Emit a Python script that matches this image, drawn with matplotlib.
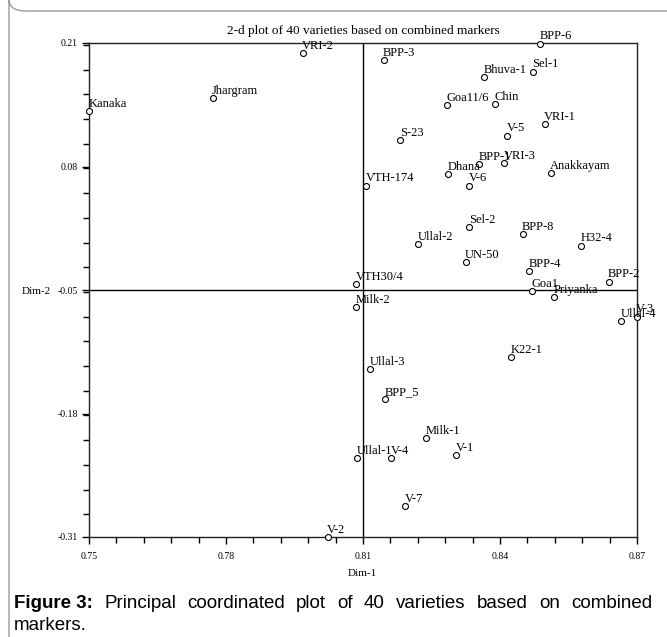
import matplotlib
matplotlib.use("Agg")
import matplotlib.pyplot as plt
from matplotlib.patches import FancyBboxPatch
from matplotlib.ticker import MultipleLocator

# variety coordinates (Dim-1, Dim-2)
varieties = ["Kanaka", "Jhargram", "VRI-2", "VTH-174", "BPP-6", "BPP-3", "Bhuva-1",
             "Sel-1", "Goa11/6", "Chin", "VRI-1", "V-5", "S-23", "BPP-1", "VRI-3",
             "Dhana", "V-6", "Anakkayam", "Sel-2", "BPP-8", "Ullal-2", "H32-4", "UN-50",
             "BPP-4", "BPP-2", "Goa1", "Priyanka", "Ullal-4", "V-3", "K22-1", "Ullal-3",
             "VTH30/4", "Milk-2", "BPP_5", "Milk-1", "V-4", "V-1", "V-7", "Ullal-1", "V-2"]
dim1 = [0.7500, 0.7771, 0.7968, 0.8107, 0.8488, 0.8145, 0.8365,
        0.8472, 0.8285, 0.8389, 0.8498, 0.8416, 0.8182, 0.8355, 0.8409,
        0.8287, 0.8333, 0.8511, 0.8333, 0.8450, 0.8221, 0.8578, 0.8325,
        0.8464, 0.8638, 0.8471, 0.8518, 0.8666, 0.8700, 0.8425, 0.8116,
        0.8085, 0.8085, 0.8149, 0.8239, 0.8162, 0.8304, 0.8193, 0.8087, 0.8023]
dim2 = [0.1387, 0.1520, 0.1995, 0.0600, 0.2093, 0.1917, 0.1742,
        0.1800, 0.1450, 0.1457, 0.1250, 0.1126, 0.1080, 0.0828, 0.0840,
        0.0720, 0.0600, 0.0730, 0.0161, 0.0087, -0.0018, -0.0033, -0.0208,
        -0.0300, -0.0412, -0.0510, -0.0573, -0.0823, -0.0780, -0.1203, -0.1335,
        -0.0436, -0.0676, -0.1648, -0.2062, -0.2267, -0.2238, -0.2776, -0.2267, -0.3100]

xticks = [0.75, 0.78, 0.81, 0.84, 0.87]
yticks = [0.21, 0.08, -0.05, -0.18, -0.31]

W, H = 667, 637
fig = plt.figure(figsize=(W / 100, H / 100), dpi=100)
serif = ["Liberation Serif", "DejaVu Serif"]

# outer rounded frame of the figure box
frame = FancyBboxPatch((9 / W, 1 - 11 / H), 700 / W, -700 / H, transform=fig.transFigure,
                       boxstyle="round,pad=0,rounding_size=0.025", fill=False,
                       edgecolor="#9a9a9a", linewidth=1.0)
fig.patches.append(frame)

ax = fig.add_axes([89 / W, 1 - 537 / H, 548 / W, 494 / H])
ax.set_xlim(0.75, 0.87)
ax.set_ylim(-0.31, 0.21)

ax.axvline(0.81, color="black", linewidth=1.0, zorder=1)
ax.axhline(-0.05, color="black", linewidth=1.0, zorder=1)

ax.plot(dim1, dim2, linestyle="none", marker="o", markersize=4.3,
        markerfacecolor="white", markeredgecolor="black", markeredgewidth=0.8,
        clip_on=False, zorder=3)
for name, x, y in zip(varieties, dim1, dim2):
    ax.annotate(name, (x, y), xytext=(-0.5, 3), textcoords="offset points",
                ha="left", va="baseline", fontsize=9, family=serif,
                annotation_clip=False, zorder=4)

ax.set_xticks(xticks)
ax.set_yticks(yticks)
ax.set_xticklabels([f"{t:.2f}" for t in xticks], family=serif, fontsize=7)
ax.set_yticklabels([f"{t:.2f}" for t in yticks], family=serif, fontsize=7)
ax.xaxis.set_minor_locator(MultipleLocator(0.006))
ax.yaxis.set_minor_locator(MultipleLocator(0.026))
ax.tick_params(which="major", direction="out", length=5, width=1.0)
ax.tick_params(which="minor", direction="out", length=4, width=1.0)
ax.tick_params(axis="x", which="major", pad=6)
ax.tick_params(axis="y", which="major", pad=3)
for s in ax.spines.values():
    s.set_linewidth(1.0)
    s.set_color("#222222")

fig.text(363 / W, 1 - 31 / H, "2-d plot of 40 varieties based on combined markers",
         ha="center", va="center", fontsize=9.5, family=serif)
fig.text(362 / W, 1 - 573 / H, "Dim-1", ha="center", va="center", fontsize=8, family=serif)
fig.text(36 / W, 1 - 291 / H, "Dim-2", ha="center", va="center", fontsize=8, family=serif)

# justified caption, first line spread from left to right edge
sans = ["Liberation Sans", "DejaVu Sans"]
line1 = ["Principal", "coordinated", "plot", "of", "40", "varieties", "based", "on", "combined"]
left, right = 14, 652
fig.canvas.draw()
r = fig.canvas.get_renderer()
texts = [fig.text(0, 1 - 603 / H, "Figure 3:", fontsize=13.5, family=sans,
                  fontweight="bold", va="center")]
texts += [fig.text(0, 1 - 603 / H, w, fontsize=13.5, family=sans, va="center") for w in line1]
widths = [t.get_window_extent(r).width for t in texts]
gap = (right - left - sum(widths)) / (len(texts) - 1)
x = left
for t, w in zip(texts, widths):
    t.set_x(x / W)
    x += w + gap
fig.text(left / W, 1 - 626 / H, "markers.", fontsize=13.5, family=sans, va="center")

fig.savefig("out.png", dpi=100)
